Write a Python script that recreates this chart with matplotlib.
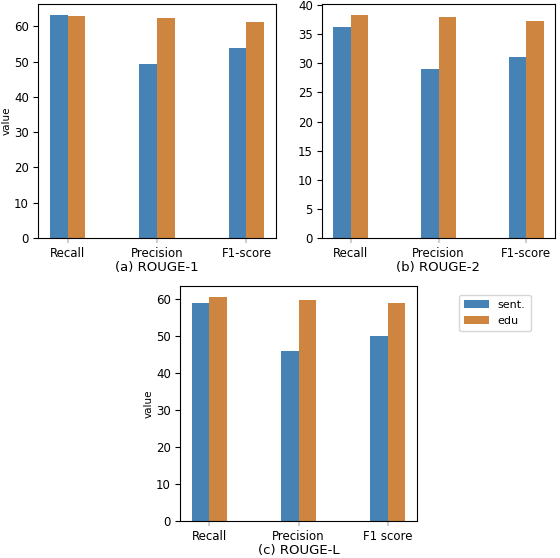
import matplotlib
matplotlib.use("Agg")
from matplotlib import pyplot as plt
import numpy as np


metrics_12 = ["Recall", "Precision", "F1-score"]
metrics_l = ["Recall", "Precision", "F1 score"]
series = ["sent.", "edu"]

rouge1_sent = [63.3, 49.4, 53.7]
rouge1_edu = [63.0, 62.2, 61.3]
rouge2_sent = [36.2, 29.0, 31.1]
rouge2_edu = [38.3, 37.9, 37.3]
rougel_sent = [58.8, 45.9, 49.9]
rougel_edu = [60.5, 59.7, 58.8]

colors = ["#4682b4", "#cd853f"]
W, H = 560, 558


def draw(ax, labels, sent, edu, caption, ylabel=None, yticks=None):
    x = np.arange(len(labels))
    w = 0.2
    ax.bar(x - w / 2, sent, w, color=colors[0], label=series[0])
    ax.bar(x + w / 2, edu, w, color=colors[1], label=series[1])
    ax.set_xticks(x)
    ax.set_xticklabels(labels, fontsize=8.5)
    ax.tick_params(axis="x", color="#d0d0d0", width=1.5, pad=3)
    ax.tick_params(axis="y", labelsize=8.5, pad=3)
    ax.set_xlim(-0.33, 2.33)
    if yticks is not None:
        ax.set_yticks(yticks)
    ax.set_xlabel(caption, fontsize=9.5, labelpad=1)
    if ylabel:
        ax.set_ylabel(ylabel, fontsize=7.5, labelpad=2)


fig = plt.figure(figsize=(W / 100, H / 100), dpi=100)
ax1 = fig.add_axes([38 / W, 1 - 238 / H, 238 / W, 234 / H])
ax2 = fig.add_axes([322 / W, 1 - 238 / H, 233 / W, 234 / H])
ax3 = fig.add_axes([180 / W, 1 - 521 / H, 237 / W, 235 / H])

draw(ax1, metrics_12, rouge1_sent, rouge1_edu, "(a) ROUGE-1", "value",
     np.arange(0, 61, 10))
ax1.set_ylim(0, 66.3)
draw(ax2, metrics_12, rouge2_sent, rouge2_edu, "(b) ROUGE-2",
     yticks=np.arange(0, 41, 5))
ax2.set_ylim(0, 40.2)
draw(ax3, metrics_l, rougel_sent, rougel_edu, "(c) ROUGE-L", "value",
     np.arange(0, 61, 10))
ax3.set_ylim(0, 63.5)

handles, labels = ax3.get_legend_handles_labels()
fig.legend(handles, labels, loc="upper left",
           bbox_to_anchor=(453 / W, 1 - 289 / H), fontsize=8,
           handlelength=2.2, borderpad=0.5)

fig.savefig("out.png", dpi=100)
